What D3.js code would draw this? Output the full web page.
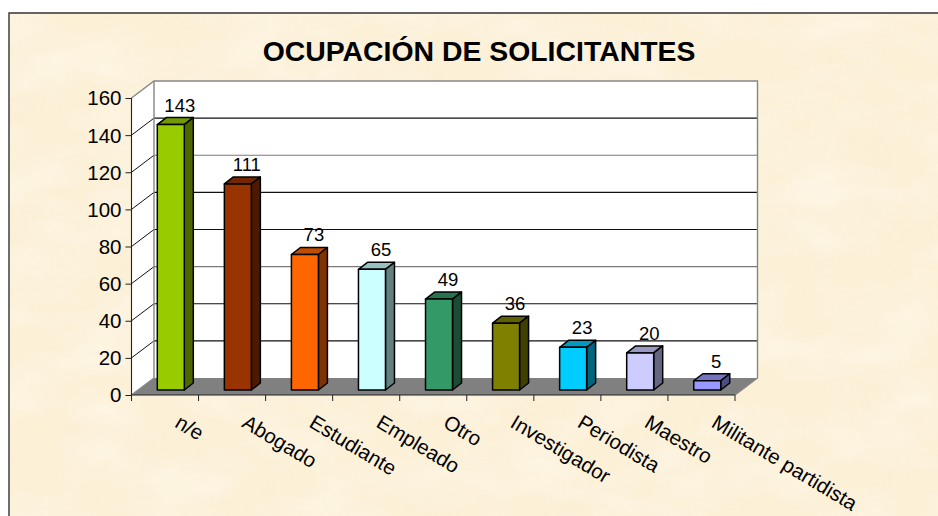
<!DOCTYPE html>
<html><head><meta charset="utf-8">
<style>html,body{margin:0;padding:0;background:#fff}svg{display:block}text{font-family:"Liberation Sans",Arial,sans-serif;fill:#000}</style>
<script src="https://cdn.jsdelivr.net/npm/d3@7/dist/d3.min.js"></script>
</head><body><svg id="c" width="938" height="516"></svg>
<script>
const titleText = "OCUPACIÓN DE SOLICITANTES";
const categories = ["n/e","Abogado","Estudiante","Empleado","Otro","Investigador","Periodista","Maestro","Militante partidista"];
const values = [143,111,73,65,49,36,23,20,5];
const colors = ["#99cc00","#993300","#ff6600","#ccffff","#339966","#808000","#00ccff","#ccccff","#9999ff"];
const yTicks = [0,20,40,60,80,100,120,140,160];
const gridColors = ["#111","#111","#7a7a7a","#111","#111","#7a7a7a","#111","#7a7a7a"];

const svg = d3.select("#c");
const defs = svg.append("defs");
const f = defs.append("filter").attr("id","tex").attr("x",0).attr("y",0).attr("width","100%").attr("height","100%");
f.append("feTurbulence").attr("type","fractalNoise").attr("baseFrequency","0.014 0.024").attr("numOctaves",4).attr("seed",11);
f.append("feColorMatrix").attr("values","0 0 0 0 1  0 0 0 0 0.97  0 0 0 0 0.9  1.6 0 0 0 -0.62");
const f2 = defs.append("filter").attr("id","tex2").attr("x",0).attr("y",0).attr("width","100%").attr("height","100%");
f2.append("feTurbulence").attr("type","fractalNoise").attr("baseFrequency","0.02 0.012").attr("numOctaves",4).attr("seed",23);
f2.append("feColorMatrix").attr("values","0 0 0 0 0.95  0 0 0 0 0.86  0 0 0 0 0.68  1.4 0 0 0 -0.58");

const panel = {l:9,t:13,r:938,b:516};
const bg=(fill,flt,op)=>{const r=svg.append("rect").attr("x",panel.l).attr("y",panel.t).attr("width",panel.r-panel.l).attr("height",panel.b-panel.t).attr("fill",fill);
  if(flt) r.attr("filter",`url(#${flt})`).attr("opacity",op);};
bg("#fcf0d7");
bg("#fff","tex2",.5);
bg("#fff","tex",.55);
svg.append("path").attr("d",`M${panel.l},${panel.b}V${panel.t}H${panel.r}`).attr("fill","none").attr("stroke","#333").attr("stroke-width",1.4);

const x0=131.5,x1=735,dx=22.5,dy=17,bx=25.8;
const x = d3.scaleBand().domain(categories).range([x0,x1]);
const y = d3.scaleLinear().domain([0,160]).range([395,98]);
const barW=27, bdx=9, bdy=7, barBase=5;

// Walls and floor
const g=svg.append("g");
g.append("path").attr("d",`M${x0},${y(0)}L${x0+dx},${y(0)-dy}V${y(160)-dy}L${x0},${y(160)}Z`).attr("fill","#fff");
g.append("rect").attr("x",x0+dx).attr("y",y(160)-dy).attr("width",x1-x0).attr("height",y(0)-y(160)).attr("fill","#fff");
g.append("path").attr("d",`M${x0},${y(0)}L${x0+dx},${y(0)-dy}H${x1+dx}L${x1},${y(0)}Z`).attr("fill","#808080");
// Grid lines
yTicks.slice(1,-1).forEach((t,i)=>{
  g.append("path").attr("d",`M${x0+dx},${y(t)-dy}H${x1+dx}`).attr("fill","none").attr("stroke",gridColors[i]).attr("stroke-width",1.1);
  g.append("path").attr("d",`M${x0},${y(t)}L${x0+dx},${y(t)-dy}`).attr("fill","none").attr("stroke","#111").attr("stroke-width",1);
});
g.append("path").attr("d",`M${x0},${y(160)}L${x0+dx},${y(160)-dy}H${x1+dx}V${y(0)-dy}L${x1},${y(0)}`).attr("fill","none").attr("stroke","#868686").attr("stroke-width",1.4);
g.append("path").attr("d",`M${x0+dx},${y(160)-dy}V${y(0)-dy}L${x0},${y(0)}`).attr("fill","none").attr("stroke","#868686").attr("stroke-width",1.4);

// Axes
const ay=svg.append("g").attr("transform",`translate(${x0},0)`).call(d3.axisLeft(y).tickValues(yTicks).tickSize(6).tickPadding(4));
ay.select(".domain").attr("stroke","#222").attr("stroke-width",1.1).attr("d",`M0,${y(160)}V${y(0)}`);
ay.selectAll("line").attr("stroke","#222");
ay.selectAll("text").style("font-size","20.5px").style("font-family","'Liberation Sans',Arial,sans-serif").attr("fill","#000").attr("dy","0.34em");

const ax=svg.append("g").attr("transform",`translate(0,${y(0)})`);
ax.append("path").attr("d",`M${x0},0H${x1}`).attr("stroke","#222").attr("stroke-width",1.2);
categories.concat([null]).forEach((c)=>{
  const px = c===null? x1 : x(c);
  ax.append("line").attr("x1",px).attr("x2",px).attr("y1",0).attr("y2",6).attr("stroke","#222");
});

// Bars
const bars=svg.append("g").selectAll("g").data(categories).join("g");
const scaleCol=(c,k)=>{const q=d3.rgb(c);return d3.rgb(q.r*k,q.g*k,q.b*k).formatHex();};
bars.each(function(c,i){
  const g=d3.select(this), l=x(c)+bx, r=l+barW, b=y(0)-barBase, t=y(values[i])-barBase;
  const add=(d,fill)=>g.append("path").attr("d",d).attr("fill",fill).attr("stroke","#000").attr("stroke-width",1.5).attr("stroke-linejoin","round");
  add(`M${l},${t}L${l+bdx},${t-bdy}H${r+bdx}L${r},${t}Z`,scaleCol(colors[i],.75));
  add(`M${r},${t}L${r+bdx},${t-bdy}V${b-bdy}L${r},${b}Z`,scaleCol(colors[i],.5));
  add(`M${l},${t}H${r}V${b}H${l}Z`,colors[i]);
  g.append("text").attr("x",l+barW/2+9).attr("y",t-bdy-6).attr("text-anchor","middle").style("font-size","18.5px").text(values[i]);
});

// Category labels
svg.append("g").selectAll("text").data(categories).join("text")
 .attr("transform",c=>`translate(${x(c)+x.bandwidth()/2+5},${y(0)+22}) rotate(31)`)
 .style("font-size","20.5px").text(c=>c)
 .attr("dx",8).attr("dy",6);

svg.append("text").attr("x",479).attr("y",61).attr("text-anchor","middle").style("font-size","28.4px").style("font-weight","bold").text(titleText);
</script></body></html>
